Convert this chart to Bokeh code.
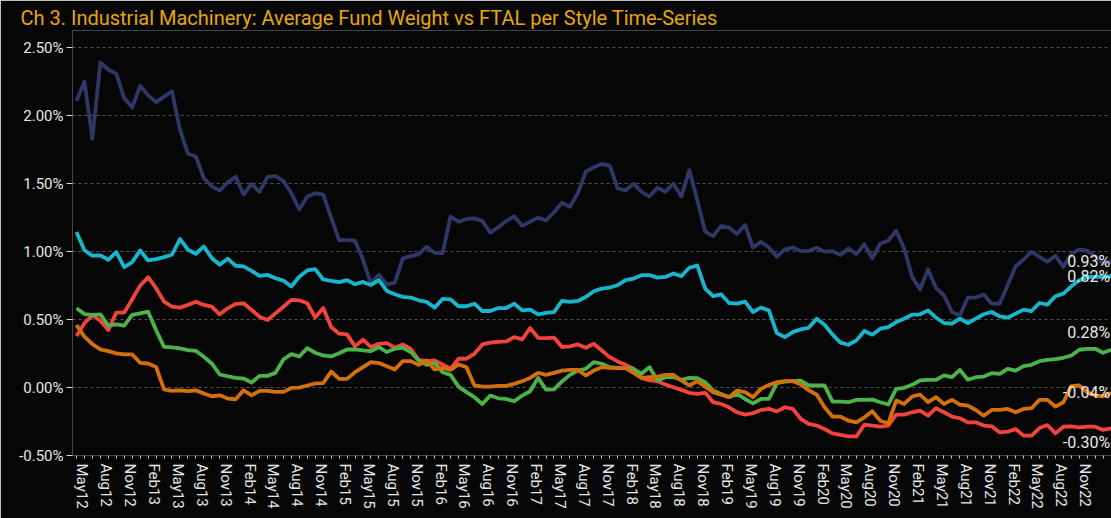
from bokeh.plotting import figure
from bokeh.models import FixedTicker, PrintfTickFormatter, ColumnDataSource
from bokeh.core.properties import value
from bokeh.embed import file_html
from bokeh.resources import INLINE

# ---------------- data ----------------
tick_labels = ["May12", "Aug12", "Nov12", "Feb13", "May13", "Aug13", "Nov13", "Feb14",
               "May14", "Aug14", "Nov14", "Feb15", "May15", "Aug15", "Nov15", "Feb16",
               "May16", "Aug16", "Nov16", "Feb17", "May17", "Aug17", "Nov17", "Feb18",
               "May18", "Aug18", "Nov18", "Feb19", "May19", "Aug19", "Nov19", "Feb20",
               "May20", "Aug20", "Nov20", "Feb21", "May21", "Aug21", "Nov21", "Feb22",
               "May22", "Aug22", "Nov22"]

navy = [2.11, 2.25, 1.83, 2.39, 2.34, 2.31, 2.13, 2.06, 2.22, 2.15, 2.10, 2.14, 2.18, 1.90, 1.72, 1.70,
        1.54, 1.48, 1.45, 1.51, 1.55, 1.42, 1.50, 1.44, 1.55, 1.555, 1.52, 1.43, 1.31, 1.405, 1.43, 1.42,
        1.25, 1.085, 1.085, 1.08, 0.94, 0.765, 0.83, 0.76, 0.77, 0.95, 0.967, 0.98, 1.036, 0.99, 0.99,
        1.257, 1.22, 1.24, 1.245, 1.225, 1.14, 1.18, 1.225, 1.26, 1.19, 1.22, 1.25, 1.23, 1.29, 1.36,
        1.33, 1.43, 1.59, 1.62, 1.645, 1.633, 1.466, 1.45, 1.50, 1.44, 1.405, 1.47, 1.44, 1.50, 1.405,
        1.60, 1.38, 1.146, 1.114, 1.19, 1.176, 1.13, 1.196, 1.03, 1.073, 1.03, 0.962, 1.016, 1.03,
        1.004, 1.004, 1.028, 1.0, 1.004, 0.974, 1.023, 0.982, 1.055, 0.95, 1.06, 1.08, 1.154, 1.023,
        0.814, 0.723, 0.868, 0.733, 0.679, 0.556, 0.531, 0.662, 0.662, 0.684, 0.617, 0.617, 0.753,
        0.893, 0.942, 0.999, 0.962, 0.925, 0.969, 0.888, 0.982, 1.016, 1.006, 0.967, 0.913, 0.93]

cyan = [1.145, 1.01, 0.97, 0.972, 0.94, 0.997, 0.886, 0.923, 1.009, 0.935, 0.945, 0.96, 0.977, 1.093,
        1.014, 0.984, 1.038, 0.953, 0.903, 0.948, 0.896, 0.891, 0.859, 0.822, 0.829, 0.805, 0.787,
        0.743, 0.815, 0.862, 0.871, 0.795, 0.785, 0.775, 0.79, 0.76, 0.777, 0.755, 0.79, 0.711, 0.686,
        0.667, 0.662, 0.642, 0.63, 0.588, 0.652, 0.649, 0.598, 0.598, 0.617, 0.563, 0.563, 0.585,
        0.585, 0.617, 0.568, 0.573, 0.539, 0.549, 0.555, 0.637, 0.63, 0.637, 0.667, 0.708, 0.728,
        0.736, 0.753, 0.79, 0.802, 0.827, 0.827, 0.809, 0.814, 0.839, 0.819, 0.881, 0.898, 0.728,
        0.672, 0.686, 0.622, 0.617, 0.632, 0.556, 0.588, 0.568, 0.401, 0.371, 0.408, 0.428, 0.44,
        0.507, 0.462, 0.389, 0.33, 0.315, 0.347, 0.416, 0.389, 0.433, 0.445, 0.482, 0.507, 0.536,
        0.539, 0.568, 0.514, 0.475, 0.47, 0.507, 0.475, 0.507, 0.539, 0.556, 0.524, 0.514, 0.544,
        0.573, 0.563, 0.622, 0.61, 0.672, 0.691, 0.745, 0.79, 0.814, 0.814, 0.814, 0.82]

red = [0.379, 0.473, 0.532, 0.492, 0.423, 0.551, 0.551, 0.65, 0.75, 0.812, 0.731, 0.632, 0.595, 0.588,
       0.608, 0.632, 0.608, 0.595, 0.539, 0.583, 0.615, 0.62, 0.571, 0.521, 0.497, 0.546, 0.595, 0.645,
       0.642, 0.62, 0.515, 0.585, 0.445, 0.396, 0.391, 0.303, 0.352, 0.298, 0.322, 0.327, 0.293, 0.317,
       0.285, 0.204, 0.192, 0.199, 0.17, 0.138, 0.212, 0.212, 0.248, 0.317, 0.33, 0.337, 0.339, 0.371,
       0.354, 0.438, 0.366, 0.364, 0.368, 0.298, 0.303, 0.317, 0.293, 0.322, 0.273, 0.224, 0.192,
       0.167, 0.138, 0.071, 0.052, 0.047, 0.022, 0.002, -0.017, -0.039, -0.047, -0.039, -0.108,
       -0.121, -0.145, -0.182, -0.199, -0.189, -0.165, -0.157, -0.175, -0.145, -0.157, -0.23, -0.268,
       -0.28, -0.305, -0.337, -0.349, -0.359, -0.36, -0.273, -0.28, -0.288, -0.28, -0.199, -0.199,
       -0.182, -0.17, -0.207, -0.152, -0.182, -0.214, -0.226, -0.256, -0.256, -0.28, -0.285, -0.33,
       -0.325, -0.305, -0.354, -0.354, -0.298, -0.276, -0.337, -0.288, -0.285, -0.293, -0.288, -0.288,
       -0.312, -0.30]

green = [0.583, 0.541, 0.534, 0.539, 0.455, 0.465, 0.455, 0.534, 0.546, 0.558, 0.423, 0.30, 0.295,
         0.288, 0.275, 0.27, 0.226, 0.177, 0.096, 0.083, 0.071, 0.066, 0.037, 0.086, 0.086, 0.108,
         0.207, 0.246, 0.228, 0.29, 0.256, 0.236, 0.229, 0.253, 0.28, 0.28, 0.273, 0.268, 0.298, 0.261,
         0.285, 0.293, 0.261, 0.199, 0.167, 0.18, 0.113, 0.093, 0.007, -0.034, -0.071, -0.121, -0.059,
         -0.079, -0.084, -0.101, -0.059, -0.027, 0.071, -0.015, -0.013, 0.045, 0.093, 0.125, 0.138,
         0.187, 0.175, 0.15, 0.145, 0.143, 0.138, 0.101, 0.15, 0.052, 0.076, 0.076, 0.057, 0.071, 0.069,
         0.039, -0.022, -0.047, -0.071, -0.047, -0.084, -0.116, -0.084, -0.084, 0.032, 0.044, 0.047,
         0.05, 0.015, 0.015, 0.015, -0.103, -0.103, -0.108, -0.091, -0.091, -0.089, -0.108, -0.125,
         -0.01, -0.002, 0.02, 0.052, 0.057, 0.057, 0.089, 0.076, 0.13, 0.057, 0.076, 0.081, 0.106,
         0.101, 0.138, 0.125, 0.157, 0.167, 0.194, 0.204, 0.209, 0.219, 0.236, 0.278, 0.285, 0.285,
         0.256, 0.278]

orange = [0.46, 0.374, 0.32, 0.281, 0.268, 0.251, 0.244, 0.244, 0.182, 0.177, 0.152, -0.013, -0.025,
          -0.02, -0.027, -0.02, -0.044, -0.064, -0.057, -0.081, -0.086, -0.02, -0.057, -0.025, -0.025,
          -0.032, -0.032, -0.003, 0.0, 0.015, 0.03, 0.032, 0.118, 0.064, 0.064, 0.113, 0.15, 0.187,
          0.18, 0.157, 0.133, 0.194, 0.194, 0.167, 0.199, 0.133, 0.145, 0.13, 0.17, 0.15, 0.015, 0.007,
          0.007, 0.012, 0.012, 0.027, 0.047, 0.071, 0.108, 0.093, 0.108, 0.125, 0.13, 0.13, 0.089,
          0.125, 0.15, 0.145, 0.143, 0.143, 0.108, 0.071, 0.076, 0.081, 0.093, 0.093, 0.052, 0.015,
          0.047, 0.007, -0.034, -0.052, -0.071, -0.022, -0.034, -0.071, -0.01, 0.02, 0.039, 0.047,
          0.047, 0.025, -0.02, -0.052, -0.145, -0.214, -0.214, -0.244, -0.256, -0.219, -0.175, -0.244,
          -0.263, -0.096, -0.121, -0.066, -0.052, -0.108, -0.071, -0.121, -0.091, -0.125, -0.133,
          -0.165, -0.207, -0.165, -0.165, -0.157, -0.182, -0.157, -0.152, -0.091, -0.091, -0.14,
          -0.108, 0.01, 0.015, -0.034, -0.059, -0.064, -0.04]

# labels at the end of each series, in the same order as `series` below
end_labels = ["0.93%", "0.82%", "0.28%", "-0.04%", "-0.30%"]

# ---------------- styles ----------------
BG = "#060606"
FONT = "Roboto"
series = [(navy, "#2f3766"), (cyan, "#17b6cc"), (green, "#4cb34a"), (orange, "#d4700c"), (red, "#f2443a")]
draw_order = [0, 1, 4, 2, 3]
label_offsets = [0, 0, -17, 0, 14]
LABEL_SHIFT = 0.75  # month-labels sit just right of their tick

n = len(navy)
xs = list(range(n))

p = figure(width=1111, height=518, output_backend="svg", toolbar_location=None,
           x_range=(-0.5, n - 1 + 0.05), y_range=(-0.5, 2.627),
           background_fill_color=BG, border_fill_color=BG, outline_line_color=None,
           min_border_left=72, min_border_right=0, min_border_top=30, min_border_bottom=63,
           title="Ch 3. Industrial Machinery:  Average Fund Weight vs FTAL per Style Time-Series")

p.title.text_color = "#e6a800"
p.title.text_font = FONT
p.title.text_font_size = "20px"
p.title.text_font_style = "normal"
p.title.align = "left"
p.title.offset = -52
p.title.standoff = 2

for k in draw_order:
    ys, col = series[k]
    p.line(xs, ys, line_color=col, line_width=3.8, line_join="round")

# end labels
src = ColumnDataSource(dict(x=[n - 1] * 5, y=[s[0][-1] for s in series], t=end_labels, yo=label_offsets))
p.text(x="x", y="y", text="t", source=src, text_align="right", text_baseline="middle",
       x_offset=-1, y_offset="yo", text_color="#e8e8e8", text_font=value(FONT), text_font_size="16px")

# y axis
p.yaxis.ticker = FixedTicker(ticks=[-0.5, 0, 0.5, 1.0, 1.5, 2.0, 2.5])
p.yaxis.formatter = PrintfTickFormatter(format="%.2f%%")
p.yaxis.axis_line_color = None
p.yaxis.major_tick_line_color = "#dddddd"
p.yaxis.major_tick_out = 6
p.yaxis.major_tick_in = 0
p.yaxis.minor_tick_line_color = None
p.yaxis.major_label_text_color = "#e6e6e6"
p.yaxis.major_label_text_font = FONT
p.yaxis.major_label_text_font_size = "15px"
p.yaxis.major_label_standoff = 3

# x axis: month tick marks every month, labels every quarter
major = [3 * k + LABEL_SHIFT for k in range(len(tick_labels))]
p.xaxis.ticker = FixedTicker(ticks=major, minor_ticks=list(range(n)))
p.xaxis.major_label_overrides = {t: lab for t, lab in zip(major, tick_labels)}
p.xaxis.major_label_orientation = "vertical"
p.xaxis.axis_line_color = None
p.xaxis.major_tick_line_color = None
p.xaxis.minor_tick_line_color = "#cccccc"
p.xaxis.major_tick_out = 3
p.xaxis.major_tick_in = 0
p.xaxis.minor_tick_out = 3
p.xaxis.minor_tick_in = 0
p.xaxis.major_label_text_color = "#e6e6e6"
p.xaxis.major_label_text_font = FONT
p.xaxis.major_label_text_font_size = "15px"
p.xaxis.major_label_standoff = 5

p.xgrid.grid_line_color = None
p.ygrid.grid_line_color = "#555555"
p.ygrid.grid_line_dash = "3 3"
p.ygrid.grid_line_width = 1

html = file_html(p, INLINE, title="chart")
html = html.replace("<body>", '<body style="background-color:#060606;">', 1)
open("out.html", "w").write(html)
